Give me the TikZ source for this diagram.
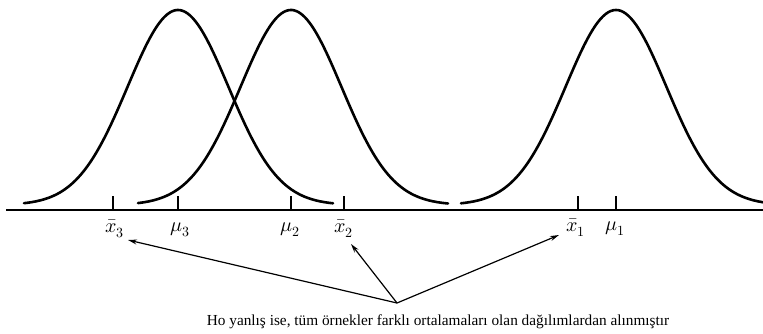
\documentclass[tikz,border=0pt]{standalone}
\usepackage{fontspec}
\setmainfont{Liberation Serif}
\usepackage{unicode-math}
\setmathfont{Latin Modern Math}
\usetikzlibrary{arrows.meta}
\begin{document}
\begin{tikzpicture}[x=1pt,y=-1pt,
  curve/.style={line width=2.6pt,line cap=round},
  axis/.style={line width=1.8pt},
  tick/.style={line width=1.3pt},
  lab/.style={inner sep=0pt,font=\fontsize{20}{24}\selectfont},
  pointer/.style={line width=1.2pt,-{Stealth[length=9pt,width=5pt]}}
]
\useasboundingbox (0,0) rectangle (763,333);
% distributions
\draw[curve] plot[domain=24:333,samples=120,smooth] (\x,{205-195*exp(-0.5*((\x-178)/50.4)^2)});
\draw[curve] plot[domain=138:448,samples=120,smooth] (\x,{205-195*exp(-0.5*((\x-291)/50.4)^2)});
\draw[curve] plot[domain=461:763,samples=120,smooth] (\x,{205-195*exp(-0.5*((\x-616)/50.4)^2)});
% axis
\coordinate (axL) at (6,210);
\coordinate (axR) at (763,210);
\draw[axis] (axL) -- (axR);
% ticks
\foreach \n/\xx in {tx3/113,tm3/178,tm2/291,tx2/344,tx1/578,tm1/616}{
  \coordinate (\n) at (\xx,210);
  \draw[tick] (\n) -- ++(0,-14);
}
% labels
\node[lab] (x3) at (115,229) {$\bar{x}_3$};
\node[lab] (m3) at (180,230) {$\mu_3$};
\node[lab] (m2) at (290,230) {$\mu_2$};
\node[lab] (x2) at (344,229) {$\bar{x}_2$};
\node[lab] (x1) at (576,228) {$\bar{x}_1$};
\node[lab] (m1) at (615,229) {$\mu_1$};
% arrows
\coordinate (hub) at (397,303);
\coordinate (t3) at (128,240);
\coordinate (t2) at (351,244);
\coordinate (t1) at (559,235);
\draw[pointer] (hub) -- (t3);
\draw[pointer] (hub) -- (t2);
\draw[pointer] (hub) -- (t1);
% caption
\node[inner sep=0pt,font=\fontsize{15.3}{18}\selectfont] (cap) at (438,322)
  {Ho yanlış ise, tüm örnekler farklı ortalamaları olan dağılımlardan alınmıştır};
\end{tikzpicture}
\end{document}
